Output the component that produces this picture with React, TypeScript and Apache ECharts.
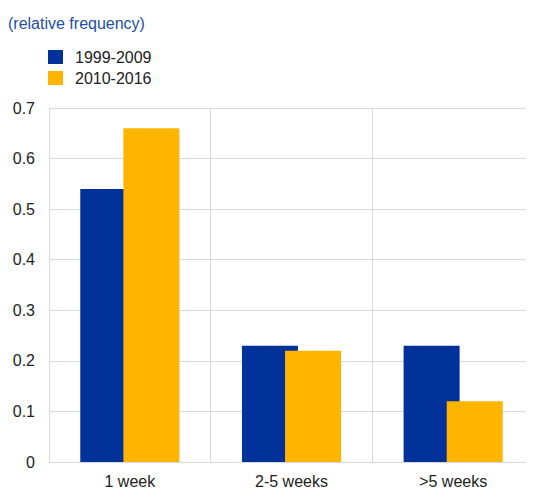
import React, { useEffect, useRef } from "react";
import * as echarts from "echarts";

const categories = ["1 week", "2-5 weeks", ">5 weeks"];
const series1999 = [0.54, 0.23, 0.23];
const series2010 = [0.66, 0.22, 0.12];
const seriesNames = ["1999-2009", "2010-2016"];

export default function App() {
  const ref = useRef<HTMLDivElement>(null);
  useEffect(() => {
    if (!ref.current) return;
    const chart = echarts.init(ref.current, undefined, { renderer: "svg" });
    const font = "Arial, 'Liberation Sans', sans-serif";
    chart.setOption({
      animation: false,
      textStyle: { fontFamily: font },
      title: {
        text: "(relative frequency)",
        left: 0,
        top: 7,
        padding: 0,
        textStyle: { fontSize: 16, fontWeight: "normal", color: "#2350a5", fontFamily: font },
      },
      legend: {
        orient: "vertical",
        left: 35,
        top: 36,
        itemWidth: 15,
        itemHeight: 14,
        itemGap: 5,
        icon: "rect",
        textStyle: { fontSize: 16, color: "#222", fontFamily: font, padding: [0, 0, 0, 7] },
        data: seriesNames,
      },
      grid: { left: 41, width: 487, top: 100, bottom: 17, containLabel: false },
      xAxis: {
        type: "category",
        data: categories,
        axisLine: { lineStyle: { color: "#d9d9d9", width: 1 } },
        axisTick: { show: false },
        splitLine: { show: true, lineStyle: { color: "#d9d9d9", width: 1 } },
        axisLabel: { fontSize: 16, color: "#222", margin: 11, fontFamily: font },
      },
      yAxis: {
        type: "value",
        min: 0,
        max: 0.7,
        interval: 0.1,
        axisLine: { show: true, lineStyle: { color: "#d9d9d9", width: 1 } },
        axisTick: { show: false },
        splitLine: { show: true, lineStyle: { color: "#d9d9d9", width: 1 } },
        axisLabel: {
          fontSize: 16,
          color: "#222",
          margin: 14,
          fontFamily: font,
          formatter: (v: number) => (v === 0 ? "0" : v.toFixed(1)),
        },
      },
      series: [
        {
          name: seriesNames[0],
          type: "bar",
          data: series1999,
          barWidth: 56,
          barGap: "-23%",
          itemStyle: { color: "#003299" },
        },
        {
          name: seriesNames[1],
          type: "bar",
          data: series2010,
          barWidth: 56,
          barGap: "-23%",
          itemStyle: { color: "#ffb400" },
        },
      ],
    });
    return () => chart.dispose();
  }, []);
  return <div ref={ref} style={{ width: 526, height: 481 }} />;
}
